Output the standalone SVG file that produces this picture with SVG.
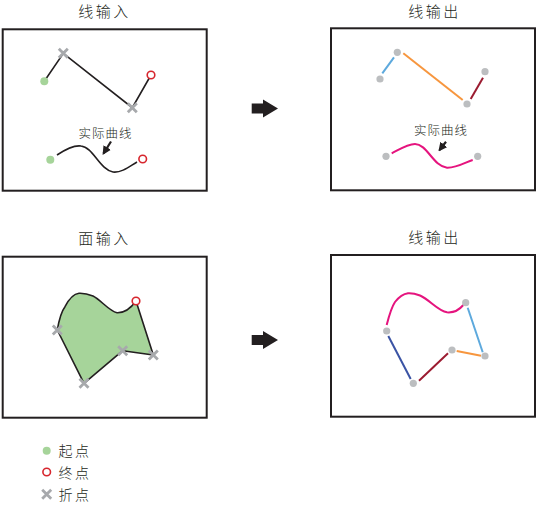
<svg xmlns="http://www.w3.org/2000/svg" width="538" height="506" viewBox="0 0 538 506">
<style>
.frame{fill:#fff;stroke:#231f20;stroke-width:2}
.title{font-family:"Noto Sans CJK SC","Noto Sans",sans-serif;font-size:15px;font-weight:300;fill:#231f20;letter-spacing:2.5px;text-anchor:middle}
.lbl{font-family:"Noto Sans CJK SC","Noto Sans",sans-serif;font-size:12.5px;font-weight:300;fill:#231f20;letter-spacing:1px;text-anchor:middle}
.leg{font-family:"Noto Sans CJK SC","Noto Sans",sans-serif;font-size:14px;font-weight:300;fill:#231f20;letter-spacing:2.5px}
.blk{fill:none;stroke:#231f20;stroke-width:1.6}
.start{fill:#a6d49a}
.end{fill:#fff;stroke:#d7262e;stroke-width:1.6}
.gdot{fill:#bcbec0}
.x{stroke:#a7a9ac;stroke-width:2.8;fill:none}
.seg{fill:none;stroke-width:2}
</style>
<defs>
<path id="xm" d="M-4.5,-4.5L4.5,4.5M-4.5,4.5L4.5,-4.5" class="x"/>
<marker id="ah" viewBox="0 0 10 10" refX="8" refY="5" markerWidth="4" markerHeight="4" orient="auto"><path d="M0,0L10,5L0,10z" fill="#231f20"/></marker>
</defs>

<g id="panel-line-input">
<text class="title" x="104.5" y="16.5">线输入</text>
<rect class="frame" x="2.7" y="29.3" width="204" height="161.4"/>
<polyline class="blk" points="44.3,81.3 63.3,53.3 132.3,107.7 151,75"/>
<circle class="start" cx="44.3" cy="81.3" r="4"/>
<use href="#xm" x="63.3" y="53.3"/>
<use href="#xm" x="132.3" y="107.7"/>
<circle class="end" cx="151" cy="75" r="3.8"/>
<text class="lbl" x="105.5" y="138">实际曲线</text>
<line x1="111" y1="141.5" x2="103.5" y2="153.5" stroke="#231f20" stroke-width="2.2" marker-end="url(#ah)"/>
<path class="blk" d="M57,155 C66,149 74,145 81,146 C93,147 100,170 113,172 C122,173 130,166 137,162"/>
<circle class="start" cx="50.3" cy="159.7" r="4"/>
<circle class="end" cx="142.7" cy="159" r="3.8"/>
</g>

<g id="panel-line-output-1">
<text class="title" x="434.5" y="16.5">线输出</text>
<rect class="frame" x="331" y="28.3" width="204" height="162"/>
<line class="seg" stroke="#5da9dd" x1="382.3" y1="73.3" x2="394" y2="57.3"/>
<line class="seg" stroke="#f7963e" x1="403.3" y1="53.3" x2="462.7" y2="100"/>
<line class="seg" stroke="#9b1b30" x1="470.7" y1="99" x2="483" y2="77.7"/>
<circle class="gdot" cx="380" cy="79" r="3.6"/>
<circle class="gdot" cx="397.3" cy="52.3" r="3.6"/>
<circle class="gdot" cx="467" cy="104" r="3.6"/>
<circle class="gdot" cx="485" cy="71.7" r="3.6"/>
<text class="lbl" x="441" y="135">实际曲线</text>
<line x1="446" y1="141.7" x2="439.5" y2="150" stroke="#231f20" stroke-width="2.2" marker-end="url(#ah)"/>
<path class="seg" stroke="#e5147e" d="M391.7,153.3 C400,149 408,144 415,144 C427,144 433,166 447,167.7 C457,168 466,162 472.7,160"/>
<circle class="gdot" cx="386" cy="156.3" r="3.6"/>
<circle class="gdot" cx="477.7" cy="156.3" r="3.6"/>
</g>

<g id="panel-polygon-input">
<text class="title" x="104.5" y="244">面输入</text>
<rect class="frame" x="2.7" y="256.7" width="204" height="161"/>
<path d="M57.3,330 C59,320 61,312 65,306.7 C69,299 73,294 79,293.3 C85,293 88,294 93,296 C101,300 109,311 117,312.7 C124,313 131,308 136,301 L153.3,355 L122.7,350.7 L84,383.3 Z" fill="#a6d49a" stroke="#231f20" stroke-width="1.6" stroke-linejoin="round"/>
<use href="#xm" x="57.3" y="330"/>
<use href="#xm" x="84" y="383.3"/>
<use href="#xm" x="122.7" y="350.7"/>
<use href="#xm" x="153.3" y="355"/>
<circle class="end" cx="136" cy="301" r="3.8"/>
</g>

<g id="panel-line-output-2">
<text class="title" x="434.5" y="243">线输出</text>
<rect class="frame" x="331" y="255" width="204" height="161.7"/>
<path class="seg" stroke="#e5147e" d="M386.7,325 C389,316 391,308 395,302 C399,297 403,294 408,293.3 C412,293 416,294 420,295.5 C430,300 438,311 447,312.3 C455,313 460,309 463.3,305"/>
<line class="seg" stroke="#3a53a4" x1="388.3" y1="336" x2="410.7" y2="379"/>
<line class="seg" stroke="#9b1b30" x1="419" y1="380.7" x2="448" y2="353.3"/>
<line class="seg" stroke="#f7963e" x1="456.7" y1="351" x2="481" y2="355.7"/>
<line class="seg" stroke="#5da9dd" x1="467.7" y1="307.7" x2="482.7" y2="352.3"/>
<circle class="gdot" cx="386.7" cy="331" r="3.6"/>
<circle class="gdot" cx="413.3" cy="383.3" r="3.6"/>
<circle class="gdot" cx="452" cy="350" r="3.6"/>
<circle class="gdot" cx="485" cy="356" r="3.6"/>
<circle class="gdot" cx="465.7" cy="302.7" r="3.6"/>
</g>

<g id="connectors">
<path d="M251.7,103.5H263V99.5L278,108.5L263,117.5V113.5H251.7Z" fill="#231f20"/>
<path d="M251.7,335H263V331L278,340L263,349V345H251.7Z" fill="#231f20"/>
</g>

<g id="legend">
<circle class="start" cx="46.7" cy="450.7" r="4"/>
<text class="leg" x="58.5" y="456">起点</text>
<circle class="end" cx="46.7" cy="472" r="3.8"/>
<text class="leg" x="58.5" y="477.5">终点</text>
<use href="#xm" x="46.7" y="494.3"/>
<text class="leg" x="58.5" y="499.5">折点</text>
</g>
</svg>
